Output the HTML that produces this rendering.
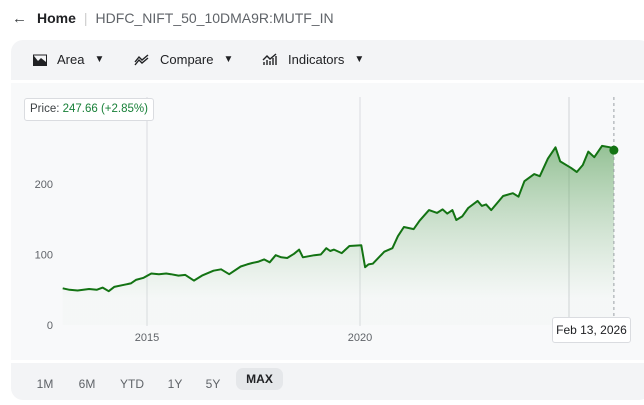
<!DOCTYPE html>
<html><head><meta charset="utf-8"><style>
body{margin:0;width:644px;height:405px;background:#fff;font-family:"Liberation Sans",sans-serif;position:relative;overflow:hidden}
.abs{position:absolute}
.tb{font-size:13px;color:#202124;display:flex;align-items:center;gap:6px}
.rb{font-size:12px;color:#5f6368;top:374px;height:20px;line-height:20px;text-align:center}
</style></head><body>
<div class="abs" style="left:12px;top:8px;font-size:14px;display:flex;align-items:center;height:20px">
<span style="font-size:15px;color:#3c4043">←</span>
<span style="margin-left:10px;font-weight:bold;color:#202124">Home</span>
<span style="margin:0 8px;color:#ccc">|</span>
<span style="color:#5f6368">HDFC_NIFT_50_10DMA9R:MUTF_IN</span></div>
<div class="abs" style="left:11px;top:40px;width:640px;height:360px;background:#f3f4f6;border-radius:12px"></div>
<div class="abs" style="left:11px;top:80px;width:633px;height:3px;background:#fff"></div>
<div class="abs" style="left:11px;top:360px;width:633px;height:3px;background:#fff"></div>
<div class="abs" style="left:11px;top:83px;width:633px;height:277px;background:#f8f9fa"></div>
<div class="abs tb" style="left:33px;top:52px"><svg width="14" height="12"><path d="M1 11V2l4 5 3-3 5 4v3z" fill="#202124"/><rect x="0.5" y="1" width="13" height="10.5" fill="none" stroke="#202124"/></svg><span style="margin-left:4px">Area</span><span style="font-size:10px;margin-left:4px">▼</span></div>
<div class="abs tb" style="left:134px;top:52px"><svg width="16" height="12"><path d="M1 8l4-5 3 3 6-5M1 11l4-5 3 3 6-5" fill="none" stroke="#202124" stroke-width="1.4"/></svg><span style="margin-left:4px">Compare</span><span style="font-size:10px;margin-left:4px">▼</span></div>
<div class="abs tb" style="left:262px;top:52px"><svg width="16" height="13"><path d="M2 12V9M5 12V7M8 12V8M11 12V5M14 12V3M1 7l4-4 3 3 6-5" fill="none" stroke="#202124" stroke-width="1.4"/></svg><span style="margin-left:4px">Indicators</span><span style="font-size:10px;margin-left:4px">▼</span></div>
<svg class="abs" style="left:0;top:0" width="644" height="405" id="chart"></svg>
<div class="abs" style="left:24px;top:98px;width:128px;height:21px;border:1px solid #dadce0;border-radius:3px;background:#fff;font-size:11.5px;line-height:21px;text-align:center;color:#3c4043">Price: <span style="color:#188038">247.66 (+2.85%)</span></div>
<div class="abs" style="left:552px;top:317px;width:77px;height:24px;border:1px solid #dadce0;border-radius:3px;background:#fff;font-size:12px;line-height:24px;text-align:center;color:#202124">Feb 13, 2026</div>
<div class="abs rb" style="left:30px;width:30px">1M</div>
<div class="abs rb" style="left:72px;width:30px">6M</div>
<div class="abs rb" style="left:115px;width:34px">YTD</div>
<div class="abs rb" style="left:162px;width:26px">1Y</div>
<div class="abs rb" style="left:200px;width:26px">5Y</div>
<div class="abs rb" style="left:236px;top:368px;width:47px;height:22px;line-height:22px;background:#e5e7ea;border-radius:7px;color:#202124;font-weight:bold">MAX</div>
<script>
const years=[2013.02,2013.18,2013.37,2013.64,2013.82,2013.96,2014.10,2014.23,2014.46,2014.62,2014.74,2014.92,2015.10,2015.28,2015.45,2015.56,2015.74,2015.90,2016.10,2016.29,2016.56,2016.74,2016.93,2017.20,2017.35,2017.47,2017.62,2017.75,2017.88,2018.02,2018.15,2018.29,2018.45,2018.57,2018.66,2018.93,2019.08,2019.21,2019.30,2019.39,2019.57,2019.75,2020.03,2020.12,2020.20,2020.30,2020.57,2020.76,2020.89,2021.03,2021.26,2021.40,2021.62,2021.81,2021.94,2022.05,2022.17,2022.26,2022.40,2022.54,2022.76,2022.86,2022.96,2023.08,2023.36,2023.59,2023.72,2023.86,2024.09,2024.22,2024.41,2024.59,2024.70,2024.95,2025.09,2025.23,2025.36,2025.50,2025.68,2025.87,2025.96];
const prices=[52,50,49,51,50,53,48,54,57,59,64,67,73,72,73,72,70,71,63,70,77,79,72,83,86,88,90,93,89,99,96,95,101,107,96,99,100,109,105,107,102,112,113,82,86,87,104,109,126,139,136,148,163,159,164,158,163,149,154,166,176,169,171,163,183,187,182,204,214,211,236,252,232,223,217,227,246,238,254,252,248];
const yTicks=[0,100,200];
const xTicks=[2015,2020];
const x=y=>147+(y-2015)*(213/5);
const yv=v=>325-v*0.705;
const svg=document.getElementById('chart');const NS='http://www.w3.org/2000/svg';
function mk(t,a){const e=document.createElementNS(NS,t);for(const k in a)e.setAttribute(k,a[k]);svg.appendChild(e);return e;}
svg.innerHTML='<defs><linearGradient id="g" x1="0" y1="0" x2="0" y2="1"><stop offset="0" stop-color="#5fa35f" stop-opacity="0.65"/><stop offset="0.85" stop-color="#8fc08f" stop-opacity="0.03"/></linearGradient></defs>';
xTicks.forEach(t=>{const l=mk('line',{x1:x(t),x2:x(t),y1:97,y2:326,stroke:'#dadce0'});


const tx=mk('text',{x:x(t),y:341,'text-anchor':'middle','font-size':11,fill:'#5f6368'});tx.textContent=t;

});
const g3=mk('line',{x1:569,x2:569,y1:97,y2:318,stroke:'#d0d3d6'});


yTicks.forEach(t=>{const tx=mk('text',{x:53,y:yv(t)+4,'text-anchor':'end','font-size':11,fill:'#5f6368'});tx.textContent=t;

});
let d=years.map((yy,i)=>(i?'L':'M')+x(yy).toFixed(1)+' '+yv(prices[i]).toFixed(1)).join(' ');
const n=years.length-1;
const area=mk('path',{d:d+` L${x(years[n])} ${yv(0)} L${x(years[0])} ${yv(0)} Z`,fill:'url(#g)'});


const dl=mk('line',{x1:x(years[n]),x2:x(years[n]),y1:97,y2:318,stroke:'#9aa0a6','stroke-dasharray':'3 3'});


const ln=mk('path',{d:d,fill:'none',stroke:'#137313','stroke-width':2,'stroke-linejoin':'round'});


const dot=mk('circle',{cx:x(years[n]),cy:yv(prices[n]),r:4.5,fill:'#137313'});


</script>
</body></html>
